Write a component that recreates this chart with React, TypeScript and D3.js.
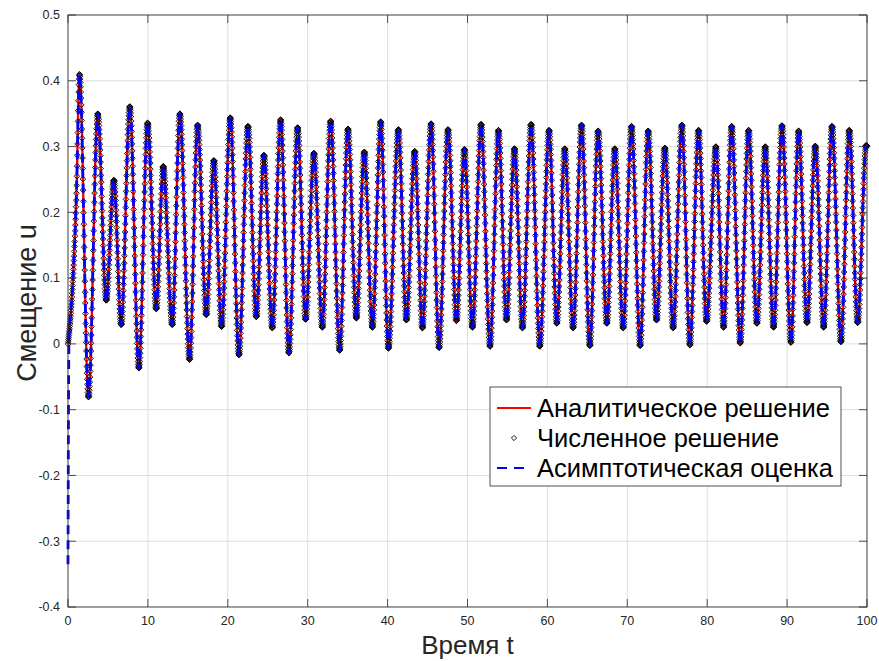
import React, { useMemo } from "react";
import * as d3 from "d3";

// Extrema of the response u(t), in time order
const peakTimes = [1.44, 3.73, 5.74, 7.74, 9.96, 11.92, 14.0, 16.22, 18.26, 20.31, 22.52, 24.52, 26.61, 28.74, 30.78, 32.87, 35.04, 37.09, 39.14, 41.35, 43.39, 45.44, 47.56, 49.62, 51.7, 53.88, 55.88, 57.96, 60.21, 62.18, 64.27, 66.35, 68.44, 70.53, 72.61, 74.7, 76.83, 78.92, 81.09, 83.06, 85.18, 87.26, 89.36, 91.44, 93.53, 95.62, 97.78];
const peakValues = [0.41, 0.35, 0.249, 0.361, 0.336, 0.27, 0.35, 0.333, 0.279, 0.344, 0.331, 0.287, 0.341, 0.329, 0.29, 0.339, 0.327, 0.292, 0.338, 0.326, 0.293, 0.335, 0.326, 0.296, 0.334, 0.325, 0.297, 0.334, 0.325, 0.297, 0.333, 0.324, 0.297, 0.331, 0.324, 0.298, 0.333, 0.325, 0.3, 0.331, 0.325, 0.3, 0.332, 0.324, 0.301, 0.331, 0.325];
const troughTimes = [2.57, 4.78, 6.66, 8.87, 11.05, 13.05, 15.22, 17.31, 19.22, 21.39, 23.57, 25.57, 27.65, 29.74, 31.83, 34.0, 36.09, 38.1, 40.1, 42.35, 44.36, 46.44, 48.62, 50.62, 52.82, 54.88, 56.88, 59.05, 61.18, 63.22, 65.31, 67.44, 69.48, 71.61, 73.66, 75.74, 77.83, 79.92, 82.05, 84.14, 86.22, 88.31, 90.48, 92.49, 94.58, 96.74, 98.83];
const troughValues = [-0.081, 0.066, 0.029, -0.037, 0.053, 0.029, -0.024, 0.044, 0.026, -0.017, 0.041, 0.024, -0.014, 0.037, 0.025, -0.01, 0.039, 0.025, -0.007, 0.036, 0.024, -0.006, 0.035, 0.025, -0.004, 0.036, 0.024, -0.004, 0.031, 0.024, -0.003, 0.031, 0.024, -0.003, 0.036, 0.024, -0.002, 0.034, 0.025, 0.001, 0.031, 0.025, 0.002, 0.032, 0.025, 0.003, 0.032];

// Initial rise and final point of the solution
const startTimes = [0, 0.52, 1.06];
const startValues = [0, 0.077, 0.229];
const endTimes = [99.9, 100];
const endValues = [0.302, 0.3];

// Asymptotic estimate starts below zero and quickly joins the solution
const asymptoticStartTimes = [0, 0.12];
const asymptoticStartValues = [-0.335, 0.005];

const xTicks = [0, 10, 20, 30, 40, 50, 60, 70, 80, 90, 100];
const yTicks = [-0.4, -0.3, -0.2, -0.1, 0, 0.1, 0.2, 0.3, 0.4, 0.5];
const legendLabels = ["Аналитическое решение", "Численное решение", "Асимптотическая оценка"];

const W = 879;
const H = 661;
const M = { left: 68, right: 867, top: 15, bottom: 607 };
const AXIS = "#262626";
const FONT = "'Liberation Sans', Arial, Helvetica, sans-serif";
const MARKER_STEP = 0.027;

type Pt = [number, number];

function bezierSegments(pts: Pt[], x: (v: number) => number, y: (v: number) => number) {
  const segs: number[][] = [];
  let cx = 0;
  let cy = 0;
  const ctx = {
    moveTo(px: number, py: number) { cx = px; cy = py; },
    lineTo(px: number, py: number) {
      segs.push([cx, cy, cx + (px - cx) / 3, cy + (py - cy) / 3, cx + (2 * (px - cx)) / 3, cy + (2 * (py - cy)) / 3, px, py]);
      cx = px; cy = py;
    },
    bezierCurveTo(x1: number, y1: number, x2: number, y2: number, px: number, py: number) {
      segs.push([cx, cy, x1, y1, x2, y2, px, py]);
      cx = px; cy = py;
    },
    closePath() {},
  };
  d3.line<Pt>().x((d) => x(d[0])).y((d) => y(d[1])).curve(d3.curveMonotoneX).context(ctx as any)(pts);
  return segs;
}

export default function App() {
  const x = d3.scaleLinear().domain([0, 100]).range([M.left, M.right]);
  const y = d3.scaleLinear().domain([-0.4, 0.5]).range([M.bottom, M.top]);

  const { analytic, asymptotic, markerPath } = useMemo(() => {
    const extrema: Pt[] = [
      ...peakTimes.map((t, i) => [t, peakValues[i]] as Pt),
      ...troughTimes.map((t, i) => [t, troughValues[i]] as Pt),
    ].sort((a, b) => a[0] - b[0]);
    const start: Pt[] = startTimes.map((t, i) => [t, startValues[i]]);
    const end: Pt[] = endTimes.map((t, i) => [t, endValues[i]]);
    const analyticPts: Pt[] = [...start, ...extrema, ...end];
    const asymPts: Pt[] = [
      ...asymptoticStartTimes.map((t, i) => [t, asymptoticStartValues[i]] as Pt),
      ...analyticPts.slice(1),
    ];
    const line = d3.line<Pt>().x((d) => x(d[0])).y((d) => y(d[1])).curve(d3.curveMonotoneX);

    // diamonds placed along the solution curve at a fixed time step
    const stepPx = x(MARKER_STEP) - x(0);
    const segs = bezierSegments(analyticPts, x, y);
    const r = 2.8;
    let mp = "";
    const addDiamond = (px: number, py: number) => {
      mp += `M${px.toFixed(2)},${(py - r).toFixed(2)}l${r},${r}l${-r},${r}l${-r},${-r}z`;
    };
    segs.forEach((s) => {
      const n = Math.max(1, Math.round((s[6] - s[0]) / stepPx));
      for (let k = 0; k < n; k++) {
        const u = k / n;
        const a = (1 - u) * (1 - u) * (1 - u);
        const b = 3 * (1 - u) * (1 - u) * u;
        const c = 3 * (1 - u) * u * u;
        const e = u * u * u;
        addDiamond(a * s[0] + b * s[2] + c * s[4] + e * s[6], a * s[1] + b * s[3] + c * s[5] + e * s[7]);
      }
    });
    const last = segs[segs.length - 1];
    addDiamond(last[6], last[7]);
    return { analytic: line(analyticPts) || "", asymptotic: line(asymPts) || "", markerPath: mp };
  }, []);

  const tickLen = 8;
  const legend = { x: 490, y: 387, w: 351, h: 99 };
  const rows = [408, 438, 468];

  return (
    <svg width={W} height={H} style={{ position: "absolute", left: 0, top: 0, display: "block", background: "#fff" }} fontFamily={FONT}>
      <rect x={0} y={0} width={W} height={H} fill="#fff" />
      {/* grid */}
      <g stroke="#dfdfdf" strokeWidth={1}>
        {xTicks.map((t) => (
          <line key={`gx${t}`} x1={x(t)} x2={x(t)} y1={M.top} y2={M.bottom} />
        ))}
        {yTicks.map((t) => (
          <line key={`gy${t}`} x1={M.left} x2={M.right} y1={y(t)} y2={y(t)} />
        ))}
      </g>

      {/* series */}
      <path d={analytic} fill="none" stroke="#ff0000" strokeWidth={2.4} />
      <path d={markerPath} fill="none" stroke="#000" strokeWidth={0.9} />
      <path d={asymptotic} fill="none" stroke="#0000ff" strokeWidth={2.8} strokeDasharray="9,6" />

      {/* ticks and box */}
      <g stroke={AXIS} strokeWidth={0.8}>
        {xTicks.map((t) => (
          <g key={`tx${t}`}>
            <line x1={x(t)} x2={x(t)} y1={M.bottom} y2={M.bottom - tickLen} />
            <line x1={x(t)} x2={x(t)} y1={M.top} y2={M.top + tickLen} />
          </g>
        ))}
        {yTicks.map((t) => (
          <g key={`ty${t}`}>
            <line x1={M.left} x2={M.left + tickLen} y1={y(t)} y2={y(t)} />
            <line x1={M.right} x2={M.right - tickLen} y1={y(t)} y2={y(t)} />
          </g>
        ))}
        <rect x={M.left} y={M.top} width={M.right - M.left} height={M.bottom - M.top} fill="none" />
      </g>

      {/* tick labels */}
      <g fill={AXIS} fontSize={12.5}>
        {xTicks.map((t) => (
          <text key={`lx${t}`} x={x(t)} y={M.bottom + 14} textAnchor="middle" dy="0.35em">
            {String(t)}
          </text>
        ))}
        {yTicks.map((t) => (
          <text key={`ly${t}`} x={M.left - 8} y={y(t)} textAnchor="end" dy="0.35em">
            {d3.format(".1~f")(t).replace("−", "-")}
          </text>
        ))}
      </g>

      {/* axis titles */}
      <text x={(M.left + M.right) / 2} y={645} textAnchor="middle" dy="0.35em" fontSize={26} fill={AXIS}>
        Время t
      </text>
      <text transform={`translate(27,${(M.top + M.bottom) / 2 - 8}) rotate(-90)`} textAnchor="middle" dy="0.35em" fontSize={27} fill={AXIS}>
        Смещение u
      </text>

      {/* legend */}
      <rect x={legend.x} y={legend.y} width={legend.w} height={legend.h} fill="#fff" stroke={AXIS} strokeWidth={0.8} />
      <line x1={497} x2={531} y1={rows[0]} y2={rows[0]} stroke="#ff0000" strokeWidth={2} />
      <path d={`M514,${rows[1] - 2.6}l2.6,2.6l-2.6,2.6l-2.6,-2.6z`} fill="none" stroke="#000" strokeWidth={0.9} />
      <line x1={497} x2={531} y1={rows[2]} y2={rows[2]} stroke="#0000ff" strokeWidth={2} strokeDasharray="10,7" />
      {legendLabels.map((l, i) => (
        <text key={l} x={537} y={rows[i]} dy="0.35em" fontSize={25.5} fill="#000">
          {l}
        </text>
      ))}
    </svg>
  );
}
